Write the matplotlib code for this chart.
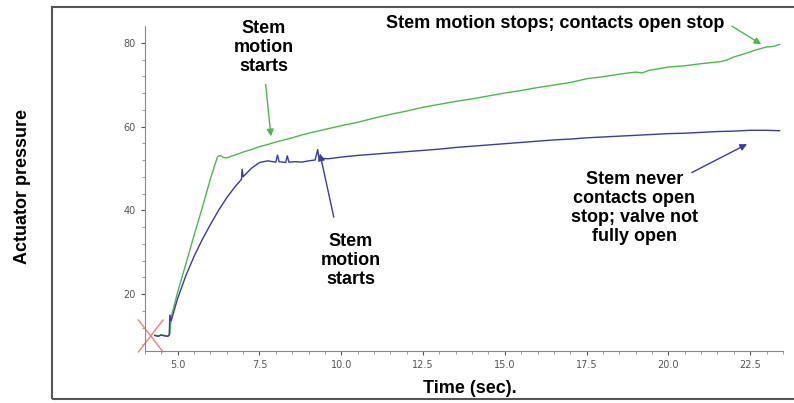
import matplotlib.pyplot as plt
from matplotlib.patches import Rectangle

# Presion del actuador frente al tiempo (dos ensayos)
t_green = [4.30, 4.40, 4.50, 4.60, 4.70, 4.76, 4.80, 5.00, 5.25, 5.50, 5.75, 6.00, 6.15, 6.22,
           6.30, 6.40, 6.50, 6.60, 6.75, 7.00, 7.25, 7.50, 7.75, 8.00, 8.25, 8.50, 8.75, 9.00,
           9.50, 10.0, 10.5, 11.0, 11.5, 12.0, 12.5, 13.0, 13.5, 14.0, 14.5, 15.0, 15.5, 16.0,
           16.5, 17.0, 17.5, 18.0, 18.5, 19.0, 19.2, 19.4, 20.0, 20.5, 21.0, 21.6, 21.8, 22.0,
           22.3, 22.6, 23.0, 23.2, 23.4]
p_green = [10.2, 10.0, 10.3, 10.1, 10.0, 10.4, 14.5, 20.5, 27.2, 34.0, 40.6, 47.5, 51.2, 52.8,
           53.1, 52.6, 52.5, 52.8, 53.2, 53.9, 54.5, 55.2, 55.7, 56.3, 56.8, 57.3, 57.9, 58.4,
           59.3, 60.2, 61.0, 62.0, 62.9, 63.7, 64.6, 65.3, 66.0, 66.6, 67.3, 68.0, 68.6, 69.3,
           69.9, 70.5, 71.4, 71.9, 72.5, 73.0, 72.8, 73.4, 74.2, 74.5, 75.0, 75.5, 75.9, 76.6,
           77.3, 78.1, 79.0, 79.1, 79.6]

t_blue = [4.30, 4.40, 4.50, 4.60, 4.70, 4.74, 4.76, 4.80, 5.00, 5.25, 5.50, 5.75, 6.00, 6.25,
          6.50, 6.75, 6.95, 6.97, 7.00, 7.25, 7.50, 7.75, 8.00, 8.05, 8.10, 8.30, 8.35, 8.40,
          8.60, 8.80, 9.00, 9.20, 9.28, 9.32, 9.40, 9.60, 10.0, 10.5, 11.0, 11.5, 12.0, 12.5,
          13.0, 13.5, 14.0, 14.5, 15.0, 15.5, 16.0, 16.5, 17.0, 17.5, 18.0, 18.5, 19.0, 19.5,
          20.0, 20.5, 21.0, 21.5, 22.0, 22.5, 23.0, 23.4]
p_blue = [10.1, 9.9, 10.2, 10.0, 9.9, 10.2, 15.0, 13.6, 19.0, 24.4, 29.0, 33.0, 36.6, 40.0,
          43.0, 45.6, 47.4, 49.8, 48.0, 50.0, 51.4, 51.8, 51.5, 53.2, 51.6, 51.4, 53.0, 51.5,
          51.6, 51.5, 51.8, 52.0, 54.5, 52.2, 52.4, 52.3, 52.7, 53.1, 53.4, 53.7, 54.0, 54.3,
          54.6, 55.0, 55.3, 55.6, 55.9, 56.2, 56.5, 56.8, 57.0, 57.3, 57.5, 57.7, 57.9, 58.1,
          58.3, 58.4, 58.6, 58.8, 58.9, 59.1, 59.1, 59.0]

xticks = [5.0, 7.5, 10.0, 12.5, 15.0, 17.5, 20.0, 22.5]
yticks = [20, 40, 60, 80]

verde = '#4cb84c'
azul = '#3a3aa8'

fig = plt.figure(figsize=(7.94, 4.03), dpi=100)
ax = fig.add_axes([0.1826, 0.129, 0.8034, 0.8065])

ax.plot(t_green, p_green, color=verde, lw=1)
ax.plot(t_blue, p_blue, color=azul, lw=1)

# cruz roja al inicio
ax.plot([3.8, 4.55], [13.8, 6.2], color='#f08080', lw=1, clip_on=False)
ax.plot([4.55, 3.8], [13.8, 6.2], color='#f08080', lw=1, clip_on=False)

ax.set_xlim(4.0, 23.5)
ax.set_ylim(6.4, 84)
ax.set_xticks(xticks)
ax.set_xticklabels([f'{v:.1f}' for v in xticks])
ax.set_yticks(yticks)
ax.set_xticks([x / 2 for x in range(8, 48)], minor=True)
ax.set_yticks(range(8, 84, 4), minor=True)
ax.tick_params(labelsize=7, colors='#555555', length=3, width=0.8)
ax.tick_params(which='minor', length=2, colors='#888888')
for s in ['top', 'right']:
    ax.spines[s].set_visible(False)
for s in ['left', 'bottom']:
    ax.spines[s].set_color('#888888')
    ax.spines[s].set_linewidth(0.8)

fuente = dict(fontsize=13, fontweight='bold', family='Liberation Sans', ha='center', va='center',
              multialignment='center', linespacing=1.15)

ax.text(7.62, 78.8, 'Stem\nmotion\nstarts', **fuente)
ax.annotate('', xy=(7.86, 57.0), xytext=(7.68, 70.7),
            arrowprops=dict(arrowstyle='-|>', color=verde, lw=1, mutation_scale=10))

ax.text(16.53, 84.5, 'Stem motion stops; contacts open stop', clip_on=False, **fuente)
ax.annotate('', xy=(22.91, 79.3), xytext=(21.87, 84.3), annotation_clip=False,
            arrowprops=dict(arrowstyle='-|>', color=verde, lw=1, mutation_scale=10))

ax.text(10.28, 28.1, 'Stem\nmotion\nstarts', **fuente)
ax.annotate('', xy=(9.33, 54.2), xytext=(9.79, 37.7),
            arrowprops=dict(arrowstyle='-|>', color=azul, lw=1, mutation_scale=10))

ax.text(18.96, 40.5, 'Stem never\ncontacts open\nstop; valve not\nfully open', **fuente)
ax.annotate('', xy=(22.48, 56.1), xytext=(20.64, 48.7),
            arrowprops=dict(arrowstyle='-|>', color=azul, lw=1, mutation_scale=10))

fig.text(0.028, 0.536, 'Actuator pressure', rotation=90, fontsize=13, fontweight='bold',
         family='Liberation Sans', ha='center', va='center')
fig.text(0.592, 0.037, 'Time (sec).', fontsize=13, fontweight='bold',
         family='Liberation Sans', ha='center', va='center')

# marco exterior
fig.patches.append(Rectangle((0.0655, 0.0099), 0.96, 0.9727, transform=fig.transFigure,
                             fill=False, edgecolor='#555555', lw=1.5))

fig.savefig('out.png', dpi=100)
